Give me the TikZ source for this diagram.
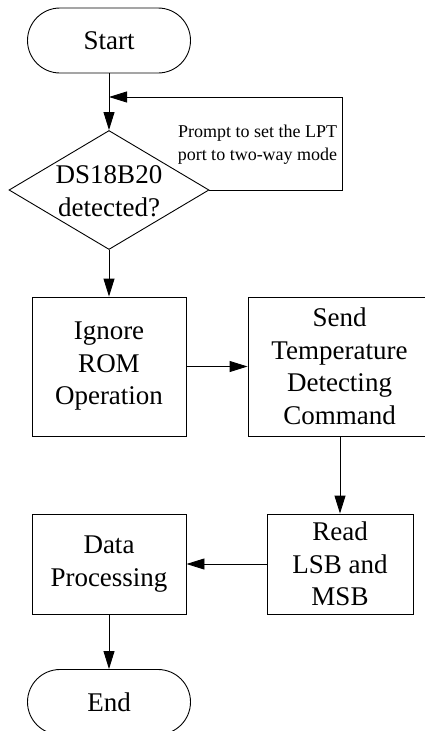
\documentclass[tikz,border=0pt]{standalone}
\usepackage{fontspec}
\setmainfont{Liberation Serif}
\usetikzlibrary{arrows.meta,shapes.geometric}
\begin{document}
\begin{tikzpicture}[x=1pt,y=-1pt,
  every node/.style={font=\fontsize{27}{32.5}\selectfont, align=center, inner sep=0pt},
  term/.style={draw, line width=0.9pt, rounded corners=32.5pt, minimum width=163pt, minimum height=65pt},
  proc/.style={draw, line width=0.9pt, minimum width=154pt, minimum height=139pt},
  dec/.style={draw, line width=0.9pt, diamond, minimum width=200pt, minimum height=119pt, aspect=1.68},
  conn/.style={line width=0.9pt, -{Triangle[length=18pt,width=11pt]}},
  plain/.style={line width=0.9pt}
]
\useasboundingbox (0,0) rectangle (425,731);
\node[term] (start) at (109,40.5) {Start};
\node[dec] (det) at (109,190) {};
\node at (109,191) {DS18B20\\detected?};
\node[proc] (ign) at (109,366.5) {Ignore\\ROM\\Operation};
\node[proc, minimum width=183pt] (send) at (339.5,366.5) {Send\\Temperature\\Detecting\\Command};
\node[proc, minimum width=146pt, minimum height=100pt] (read) at (340,564) {Read\\LSB and\\MSB};
\node[proc, minimum height=100pt] (data) at (109,564) {Data\\Processing};
\node[term] (end) at (109,702) {End};
\node[font=\fontsize{18}{22.7}\selectfont] (lbl) at (257.5,145) {Prompt to set the LPT\\port to two-way mode};
\coordinate (j) at (109,97);
\coordinate (c1) at (342,190);
\coordinate (c2) at (342,97);
\draw[conn] (start.south) -- (det.north);
\draw[conn] (det.east) -- (c1) -- (c2) -- (j);
\draw[conn] (det.south) -- (ign.north);
\draw[conn] (ign.east) -- (send.west);
\draw[conn] (send.south -| read.north) -- (read.north);
\draw[conn] (read.west) -- (data.east);
\draw[conn] (data.south) -- (end.north);
\end{tikzpicture}
\end{document}
